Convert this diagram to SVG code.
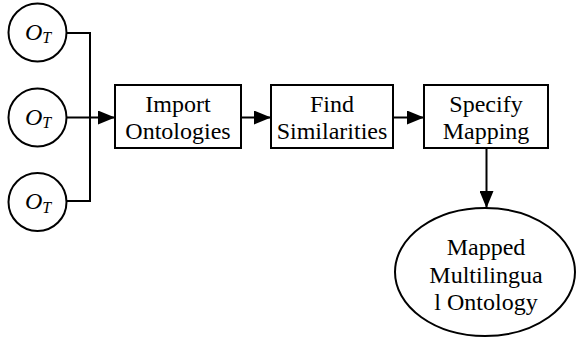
<svg xmlns="http://www.w3.org/2000/svg" width="576" height="338" viewBox="0 0 576 338">
<style>
.sh{fill:#fff;stroke:#000;stroke-width:2}
.ln{fill:none;stroke:#000;stroke-width:2}
.t{font-family:"Liberation Serif","Times New Roman",serif;font-size:24px;fill:#000;text-anchor:middle}
.o{font-family:"Liberation Serif","Times New Roman",serif;font-style:italic;fill:#000}
</style>
<defs>
<marker id="ah" markerWidth="17" markerHeight="14" refX="17" refY="7" orient="auto" markerUnits="userSpaceOnUse">
<path d="M0,0 L17,7 L0,14 Z" fill="#000"/>
</marker>
</defs>
<g id="connectors">
<path class="ln" d="M66.5,33 H90 V201 H66.5"/>
<path class="ln" d="M66.5,117.5 H115" marker-end="url(#ah)"/>
<path class="ln" d="M241,117.5 H271" marker-end="url(#ah)"/>
<path class="ln" d="M393,117.5 H424" marker-end="url(#ah)"/>
<path class="ln" d="M486.5,148 V208" marker-end="url(#ah)"/>
</g>
<g id="ot1">
<circle class="sh" cx="37.5" cy="32.5" r="29"/>
<text class="o" x="25" y="39.5" font-size="24">O<tspan font-size="16" dy="3.5">T</tspan></text>
</g>
<g id="ot2">
<circle class="sh" cx="37.5" cy="117.5" r="29"/>
<text class="o" x="25" y="124.5" font-size="24">O<tspan font-size="16" dy="3.5">T</tspan></text>
</g>
<g id="ot3">
<circle class="sh" cx="37.5" cy="202" r="29"/>
<text class="o" x="25" y="209" font-size="24">O<tspan font-size="16" dy="3.5">T</tspan></text>
</g>
<g id="import">
<rect class="sh" x="115" y="85" width="126" height="63"/>
<text class="t" x="178" y="112">Import</text>
<text class="t" x="178" y="138.5">Ontologies</text>
</g>
<g id="find">
<rect class="sh" x="271" y="85" width="122" height="63"/>
<text class="t" x="332" y="112">Find</text>
<text class="t" x="332" y="138.5">Similarities</text>
</g>
<g id="specify">
<rect class="sh" x="424" y="85" width="124" height="63"/>
<text class="t" x="486" y="112">Specify</text>
<text class="t" x="486" y="138.5">Mapping</text>
</g>
<g id="mapped">
<ellipse class="sh" cx="485" cy="272" rx="90" ry="64"/>
<text class="t" x="486" y="255">Mapped</text>
<text class="t" x="486" y="283">Multilingua</text>
<text class="t" x="486" y="310">l Ontology</text>
</g>
</svg>
